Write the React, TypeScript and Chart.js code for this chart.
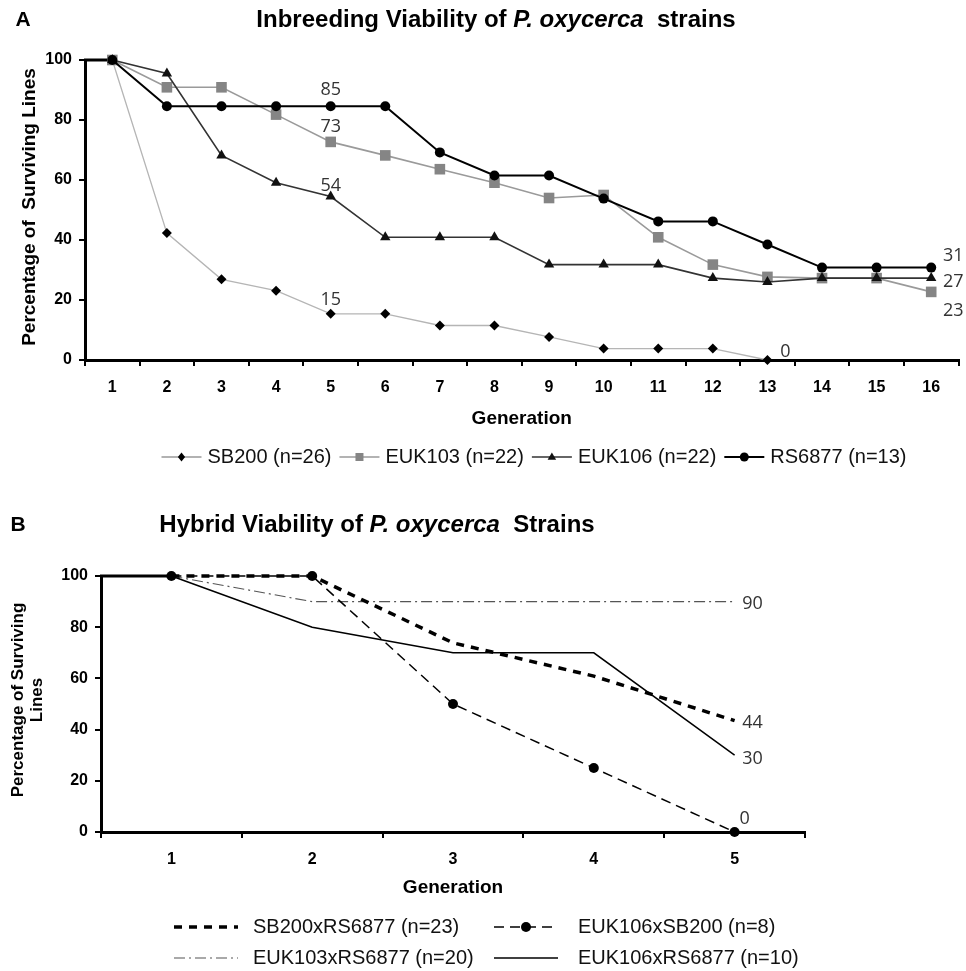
import React, { useEffect, useRef } from 'react';
import { Chart, registerables } from 'chart.js';

Chart.register(...registerables);

// ---------------- Panel A data ----------------
const generationsA = ['1', '2', '3', '4', '5', '6', '7', '8', '9', '10', '11', '12', '13', '14', '15', '16'];
const seriesNamesA = ['SB200 (n=26)', 'EUK103 (n=22)', 'EUK106 (n=22)', 'RS6877 (n=13)'];
const sb200 = [100, 42.3, 26.9, 23.1, 15.4, 15.4, 11.5, 11.5, 7.7, 3.8, 3.8, 3.8, 0, null, null, null];
const euk103 = [100, 90.9, 90.9, 81.8, 72.7, 68.2, 63.6, 59.1, 54, 55, 40.9, 31.8, 27.7, 27.3, 27.3, 22.7];
const euk106 = [100, 95.5, 68.2, 59.1, 54.5, 40.9, 40.9, 40.9, 31.8, 31.8, 31.8, 27.3, 26, 27.3, 27.3, 27.3];
const rs6877 = [100, 84.6, 84.6, 84.6, 84.6, 84.6, 69.2, 61.5, 61.5, 53.8, 46.2, 46.2, 38.5, 30.8, 30.8, 30.8];
const yMinA = 0;
const yMaxA = 100;
const yStepA = 20;
// value labels: series index, generation index, text
const valueLabelsA = [
  { series: 3, gen: 4, text: '85', dx: 0, dy: -16 },
  { series: 1, gen: 4, text: '73', dx: 0, dy: -15 },
  { series: 2, gen: 4, text: '54', dx: 0, dy: -11 },
  { series: 0, gen: 4, text: '15', dx: 0, dy: -14 },
  { series: 0, gen: 12, text: '0', dx: 18, dy: -8 },
  { series: 3, gen: 15, text: '31', dx: 22, dy: -12 },
  { series: 2, gen: 15, text: '27', dx: 22, dy: 4 },
  { series: 1, gen: 15, text: '23', dx: 22, dy: 19 },
];

// ---------------- Panel B data ----------------
const generationsB = ['1', '2', '3', '4', '5'];
const seriesNamesB = ['SB200xRS6877 (n=23)', 'EUK106xSB200 (n=8)', 'EUK103xRS6877 (n=20)', 'EUK106xRS6877 (n=10)'];
const sb200xRs6877 = [100, 100, 73.9, 60.9, 43.5];
const euk106xSb200 = [100, 100, 50, 25, 0];
const euk103xRs6877 = [100, 90, 90, 90, 90];
const euk106xRs6877 = [100, 80, 70, 70, 30];
const yMinB = 0;
const yMaxB = 100;
const yStepB = 20;
const valueLabelsB = [
  { series: 2, gen: 4, text: '90', dx: 18, dy: 2 },
  { series: 0, gen: 4, text: '44', dx: 18, dy: 2 },
  { series: 3, gen: 4, text: '30', dx: 18, dy: 4 },
  { series: 1, gen: 4, text: '0', dx: 10, dy: -13 },
];

// ---------------- styles ----------------
const FONT = '"Liberation Sans", Arial, Helvetica, sans-serif';
const NUM_FONT = '"Open Sans", "DejaVu Sans", sans-serif';

type Seg = { t: string; italic: boolean };
const titleA: Seg[] = [
  { t: 'Inbreeding Viability of ', italic: false },
  { t: 'P. oxycerca', italic: true },
  { t: '  strains', italic: false },
];
const titleB: Seg[] = [
  { t: 'Hybrid Viability of ', italic: false },
  { t: 'P. oxycerca', italic: true },
  { t: '  Strains', italic: false },
];

type Sty = {
  color: string;
  width: number;
  dash: number[];
  marker: string;
  markerColor: string;
  r: number;
};

const stylesA: Sty[] = [
  { color: '#b5b5b5', width: 1.3, dash: [], marker: 'diamond', markerColor: '#000', r: 5 },
  { color: '#9a9a9a', width: 1.6, dash: [], marker: 'square', markerColor: '#858585', r: 7.5 },
  { color: '#333333', width: 1.6, dash: [], marker: 'triangle', markerColor: '#111', r: 6 },
  { color: '#000000', width: 2, dash: [], marker: 'circle', markerColor: '#000', r: 5 },
];
const stylesB: Sty[] = [
  { color: '#000', width: 3.5, dash: [8, 7], marker: 'none', markerColor: '#000', r: 0 },
  { color: '#000', width: 1.5, dash: [10, 6], marker: 'circle', markerColor: '#000', r: 5 },
  { color: '#555', width: 1.2, dash: [11, 4, 2, 4], marker: 'none', markerColor: '#555', r: 0 },
  { color: '#000', width: 1.5, dash: [], marker: 'none', markerColor: '#000', r: 0 },
];

const pointStyleOf = (m: string) =>
  m === 'diamond' ? 'rectRot' : m === 'square' ? 'rect' : m === 'triangle' ? 'triangle' : 'circle';

function drawMarker(ctx: CanvasRenderingContext2D, kind: string, x: number, y: number, r: number, fill: string) {
  if (kind === 'none') return;
  ctx.save();
  ctx.setLineDash([]);
  ctx.fillStyle = fill;
  ctx.beginPath();
  if (kind === 'diamond') {
    ctx.moveTo(x, y - r);
    ctx.lineTo(x + r * 0.8, y);
    ctx.lineTo(x, y + r);
    ctx.lineTo(x - r * 0.8, y);
    ctx.closePath();
  } else if (kind === 'square') {
    ctx.rect(x - r, y - r, 2 * r, 2 * r);
  } else if (kind === 'triangle') {
    ctx.moveTo(x, y - r);
    ctx.lineTo(x + r * 0.95, y + r * 0.6);
    ctx.lineTo(x - r * 0.95, y + r * 0.6);
    ctx.closePath();
  } else {
    ctx.arc(x, y, r, 0, Math.PI * 2);
  }
  ctx.fill();
  ctx.restore();
}

function drawSample(ctx: CanvasRenderingContext2D, x1: number, x2: number, y: number, s: Sty, mr: number) {
  ctx.save();
  ctx.strokeStyle = s.color;
  ctx.lineWidth = s.width;
  ctx.setLineDash(s.dash);
  ctx.beginPath();
  ctx.moveTo(x1, y);
  ctx.lineTo(x2, y);
  ctx.stroke();
  ctx.restore();
  drawMarker(ctx, s.marker, (x1 + x2) / 2, y, mr, s.markerColor);
}

function drawText(
  ctx: CanvasRenderingContext2D,
  t: string,
  x: number,
  y: number,
  font: string,
  color = '#000',
  align: CanvasTextAlign = 'center'
) {
  ctx.save();
  ctx.font = font;
  ctx.fillStyle = color;
  ctx.textAlign = align;
  ctx.textBaseline = 'middle';
  ctx.fillText(t, x, y);
  ctx.restore();
}

function drawRich(ctx: CanvasRenderingContext2D, segs: Seg[], cx: number, cy: number, size: number) {
  ctx.save();
  const fonts = segs.map((s) => `${s.italic ? 'italic ' : ''}bold ${size}px ${FONT}`);
  const widths = segs.map((s, i) => {
    ctx.font = fonts[i];
    return ctx.measureText(s.t).width;
  });
  const total = widths.reduce((a, b) => a + b, 0);
  let x = cx - total / 2;
  ctx.fillStyle = '#000';
  ctx.textBaseline = 'middle';
  ctx.textAlign = 'left';
  segs.forEach((s, i) => {
    ctx.font = fonts[i];
    ctx.fillText(s.t, x, cy);
    x += widths[i];
  });
  ctx.restore();
}

function drawConnector(chart: any, data: number[]) {
  const { ctx, chartArea, scales } = chart;
  const y = scales.y.getPixelForValue(data[0]);
  const x2 = scales.x.getPixelForValue(0);
  ctx.save();
  ctx.strokeStyle = '#000';
  ctx.lineWidth = 3;
  ctx.beginPath();
  ctx.moveTo(chartArea.left - 1, y);
  ctx.lineTo(x2, y);
  ctx.stroke();
  ctx.restore();
}

function drawValueLabels(chart: any, labels: typeof valueLabelsA, series: (number | null)[][]) {
  const { ctx, scales } = chart;
  labels.forEach((l) => {
    const v = series[l.series][l.gen] as number;
    const x = scales.x.getPixelForValue(l.gen) + l.dx;
    const y = scales.y.getPixelForValue(v) + l.dy;
    drawText(ctx, l.text, x, y, `18px ${NUM_FONT}`, '#333', 'center');
  });
}

const seriesA = [sb200, euk103, euk106, rs6877];
const seriesB = [sb200xRs6877, euk106xSb200, euk103xRs6877, euk106xRs6877];

const overlayA = {
  id: 'overlayA',
  beforeDatasetsDraw(chart: any) {
    drawConnector(chart, rs6877);
  },
  afterDraw(chart: any) {
    const { ctx, chartArea: ca } = chart;
    drawText(ctx, 'A', 23, 20, `bold 21px ${FONT}`);
    drawRich(ctx, titleA, 496, 20, 24);
    ctx.save();
    ctx.translate(30, (ca.top + ca.bottom) / 2 - 3);
    ctx.rotate(-Math.PI / 2);
    drawText(ctx, 'Percentage of  Surviving Lines', 0, 0, `bold 19px ${FONT}`);
    ctx.restore();
    drawText(ctx, 'Generation', (ca.left + ca.right) / 2, 419, `bold 19px ${FONT}`);
    // legend
    const font = `20px ${FONT}`;
    ctx.save();
    ctx.font = font;
    const tw = seriesNamesA.map((n) => ctx.measureText(n).width);
    ctx.restore();
    const sw = 40, g1 = 6, g2 = 8;
    const total = tw.reduce((a, b) => a + b, 0) + seriesNamesA.length * (sw + g1) + (seriesNamesA.length - 1) * g2;
    let x = 534 - total / 2;
    const ly = 457;
    seriesNamesA.forEach((n, i) => {
      const st = stylesA[i];
      const legendSty = { ...st, color: i === 0 ? '#999' : st.color };
      drawSample(ctx, x, x + sw, ly, legendSty, i === 1 ? 4 : 4.5);
      x += sw + g1;
      drawText(ctx, n, x, ly, font, '#111', 'left');
      x += tw[i] + g2;
    });
    drawValueLabels(chart, valueLabelsA, seriesA);
  },
};

const overlayB = {
  id: 'overlayB',
  beforeDatasetsDraw(chart: any) {
    drawConnector(chart, sb200xRs6877);
  },
  afterDraw(chart: any) {
    const { ctx, chartArea: ca } = chart;
    drawText(ctx, 'B', 18, 45, `bold 21px ${FONT}`);
    drawRich(ctx, titleB, 377, 45, 24);
    ctx.save();
    ctx.translate(0, (ca.top + ca.bottom) / 2 - 4);
    ctx.rotate(-Math.PI / 2);
    drawText(ctx, 'Percentage of Surviving', 0, 18, `bold 17px ${FONT}`);
    drawText(ctx, 'Lines', 0, 37, `bold 17px ${FONT}`);
    ctx.restore();
    drawText(ctx, 'Generation', (ca.left + ca.right) / 2, 408, `bold 19px ${FONT}`);
    const font = `20px ${FONT}`;
    const cols = [
      { s1: 174, s2: 238, t: 253 },
      { s1: 494, s2: 558, t: 578 },
    ];
    const rows = [447, 478];
    seriesNamesB.forEach((n, i) => {
      const c = cols[i % 2];
      const y = rows[Math.floor(i / 2)];
      drawSample(ctx, c.s1, c.s2, y, stylesB[i], 5);
      drawText(ctx, n, c.t, y, font, '#111', 'left');
    });
    drawValueLabels(chart, valueLabelsB, seriesB);
  },
};

function makeScales(xHeight: number, yWidth: number, yMin: number, yMax: number, yStep: number) {
  const tickFont = { family: FONT, size: 16, weight: 'bold' as const };
  return {
    x: {
      type: 'category' as const,
      offset: true,
      grid: { offset: true, drawOnChartArea: false, drawTicks: true, tickLength: 6, color: '#000', lineWidth: 2 },
      border: { display: true, color: '#000', width: 3 },
      ticks: { padding: 12, font: tickFont, color: '#000', autoSkip: false, maxRotation: 0 },
      afterFit: (s: any) => {
        s.height = xHeight;
      },
    },
    y: {
      min: yMin,
      max: yMax,
      grid: { drawOnChartArea: false, drawTicks: true, tickLength: 6, color: '#000', lineWidth: 2 },
      border: { display: true, color: '#000', width: 3 },
      ticks: { stepSize: yStep, padding: 7, font: tickFont, color: '#000' },
      afterFit: (s: any) => {
        s.width = yWidth;
      },
    },
  };
}

function datasetsA() {
  return seriesA.map((d, i) => {
    const s = stylesA[i];
    return {
      label: seriesNamesA[i],
      data: d,
      borderColor: s.color,
      borderWidth: s.width,
      pointStyle: pointStyleOf(s.marker),
      pointRadius: s.r,
      pointBackgroundColor: s.markerColor,
      pointBorderColor: s.markerColor,
      pointBorderWidth: 0,
      tension: 0,
      clip: false as const,
      order: 3 - i,
      spanGaps: false,
    };
  });
}

function datasetsB() {
  return seriesB.map((d, i) => {
    const s = stylesB[i];
    return {
      label: seriesNamesB[i],
      data: d,
      borderColor: s.color,
      borderWidth: s.width,
      borderDash: s.dash,
      pointStyle: 'circle',
      pointRadius: s.r,
      pointBackgroundColor: s.markerColor,
      pointBorderColor: s.markerColor,
      pointBorderWidth: 0,
      tension: 0,
      clip: false as const,
      order: i,
    };
  });
}

export default function App() {
  const refA = useRef<HTMLCanvasElement>(null);
  const refB = useRef<HTMLCanvasElement>(null);

  useEffect(() => {
    const common = {
      animation: false as const,
      responsive: false,
      maintainAspectRatio: false,
      devicePixelRatio: 1,
      plugins: { legend: { display: false }, title: { display: false }, tooltip: { enabled: false } },
      events: [] as any[],
    };
    const a = new Chart(refA.current!, {
      type: 'line',
      data: { labels: generationsA, datasets: datasetsA() as any },
      options: {
        ...common,
        layout: { padding: { top: 60, right: 6, left: 0, bottom: 0 } },
        scales: makeScales(120, 85, yMinA, yMaxA, yStepA) as any,
      },
      plugins: [overlayA as any],
    });
    const b = new Chart(refB.current!, {
      type: 'line',
      data: { labels: generationsB, datasets: datasetsB() as any },
      options: {
        ...common,
        layout: { padding: { top: 96, right: 161, left: 0, bottom: 0 } },
        scales: makeScales(139, 101, yMinB, yMaxB, yStepB) as any,
      },
      plugins: [overlayB as any],
    });
    return () => {
      a.destroy();
      b.destroy();
    };
  }, []);

  return (
    <div style={{ position: 'absolute', left: 0, top: 0, width: 966, height: 971, background: '#fff', overflow: 'hidden' }}>
      <canvas ref={refA} width={966} height={480} style={{ position: 'absolute', left: 0, top: 0, width: 966, height: 480 }} />
      <canvas ref={refB} width={966} height={491} style={{ position: 'absolute', left: 0, top: 480, width: 966, height: 491 }} />
    </div>
  );
}
